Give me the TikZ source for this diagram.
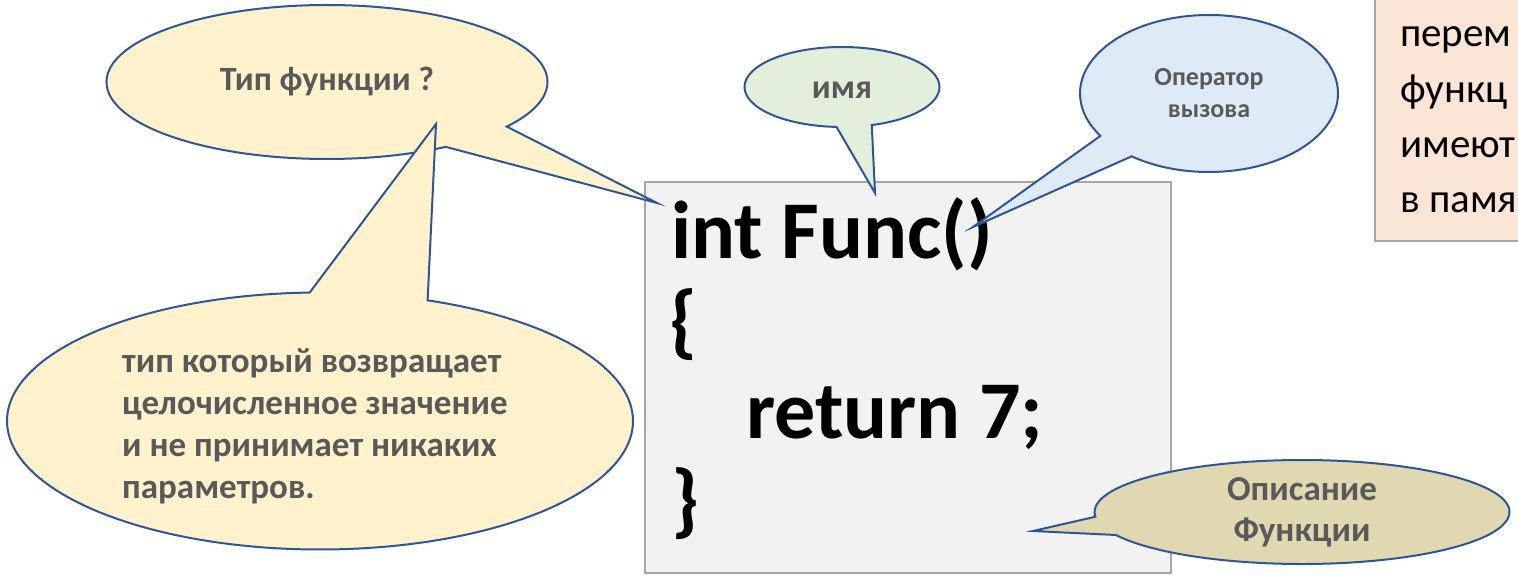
\documentclass[tikz,border=0pt]{standalone}
\usepackage{fontspec}
\setmainfont{Carlito}
\usetikzlibrary{positioning,shapes.callouts}
\definecolor{edge}{HTML}{2F5597}
\definecolor{note}{HTML}{595959}
\definecolor{cream}{HTML}{FFF2CC}
\definecolor{mint}{HTML}{E2EFDA}
\definecolor{sky}{HTML}{DEEBF7}
\definecolor{sand}{HTML}{E0D8B0}
\definecolor{paper}{HTML}{F2F2F2}
\definecolor{peach}{HTML}{FBE5D6}
\definecolor{frame}{HTML}{A6A6A6}

\begin{document}
\begin{tikzpicture}[x=1pt, y=-1pt,
    bubble/.style={ellipse callout, draw=edge, line width=2pt, inner sep=0pt,
                   callout pointer arc=22, text=note, align=center,
                   font=\bfseries\fontsize{34}{40}\selectfont},
    codeline/.style={anchor=base west, inner sep=0pt, font=\bfseries\fontsize{82}{90}\selectfont},
    memoline/.style={anchor=base west, inner sep=0pt, font=\fontsize{41}{55}\selectfont},
    sheet/.style={draw=frame, line width=1.6pt}]
  \clip (0,0) rectangle (1518,577);
  % code of the function
  \node[sheet, fill=paper, minimum width=526pt, minimum height=391pt] (code) at (908,377.5) {};
  \node[codeline] (l1) at (671,259) {int Func()};
  \node[codeline] (l2) at ([xshift=-2pt, yshift=-89.5pt]l1.base west) {\{};
  \node[codeline] (l3) at ([xshift=75pt, yshift=-179pt]l1.base west) {return 7;};
  \node[codeline] (l4) at ([yshift=-268pt]l1.base west) {\}};
  % note box, cut by the right edge
  \node[sheet, fill=peach, minimum width=200pt, minimum height=300pt, anchor=south west] (memo) at (1374,242) {};
  \node[memoline] (m1) at (1400,47) {перем};
  \node[memoline] (m2) at ([yshift=-55.3pt]m1.base west) {функц};
  \node[memoline] (m3) at ([yshift=-55.3pt]m2.base west) {имеют};
  \node[memoline] (m4) at ([yshift=-55.3pt]m3.base west) {в памя};
  % pointer tips
  \coordinate (kindtip) at (657,203);
  \coordinate (wordtip) at (436,124);
  \coordinate (nametip) at (875,193);
  \coordinate (calltip) at (973,227);
  \coordinate (bodytip) at (1033,531);
  % callouts
  \node[bubble, fill=cream, minimum width=441pt, minimum height=154pt,
        callout absolute pointer={(kindtip)}] (kind) at (327,82) {Тип функции ?};
  \node[bubble, fill=cream, minimum width=626pt, minimum height=257pt,
        callout absolute pointer={(wordtip)}] (word) at (320,421) {};
  \node[anchor=base west, inner sep=0pt, text=note, align=left,
        font=\bfseries\fontsize{35}{42}\selectfont] (wordtext) at (122,498)
       {тип который возвращает\\целочисленное значение\\и не принимает никаких\\параметров.};
  \node[bubble, fill=mint, minimum width=195pt, minimum height=80pt, text height=24pt, text depth=0pt,
        callout pointer arc=21, callout absolute pointer={(nametip)}] (name) at (842,87) {имя};
  \node[bubble, fill=sky, minimum width=258pt, minimum height=157pt,
        font=\bfseries\fontsize{26}{32}\selectfont,
        callout pointer arc=20.5, callout absolute pointer={(calltip)}] (call) at (1209,93.5) {Оператор\\вызова};
  \node[bubble, fill=sand, minimum width=415pt, minimum height=104pt,
        font=\bfseries\fontsize{35}{41}\selectfont,
        callout pointer arc=21, callout absolute pointer={(bodytip)}] (body) at (1302,512) {Описание\\Функции};
\end{tikzpicture}
\end{document}
